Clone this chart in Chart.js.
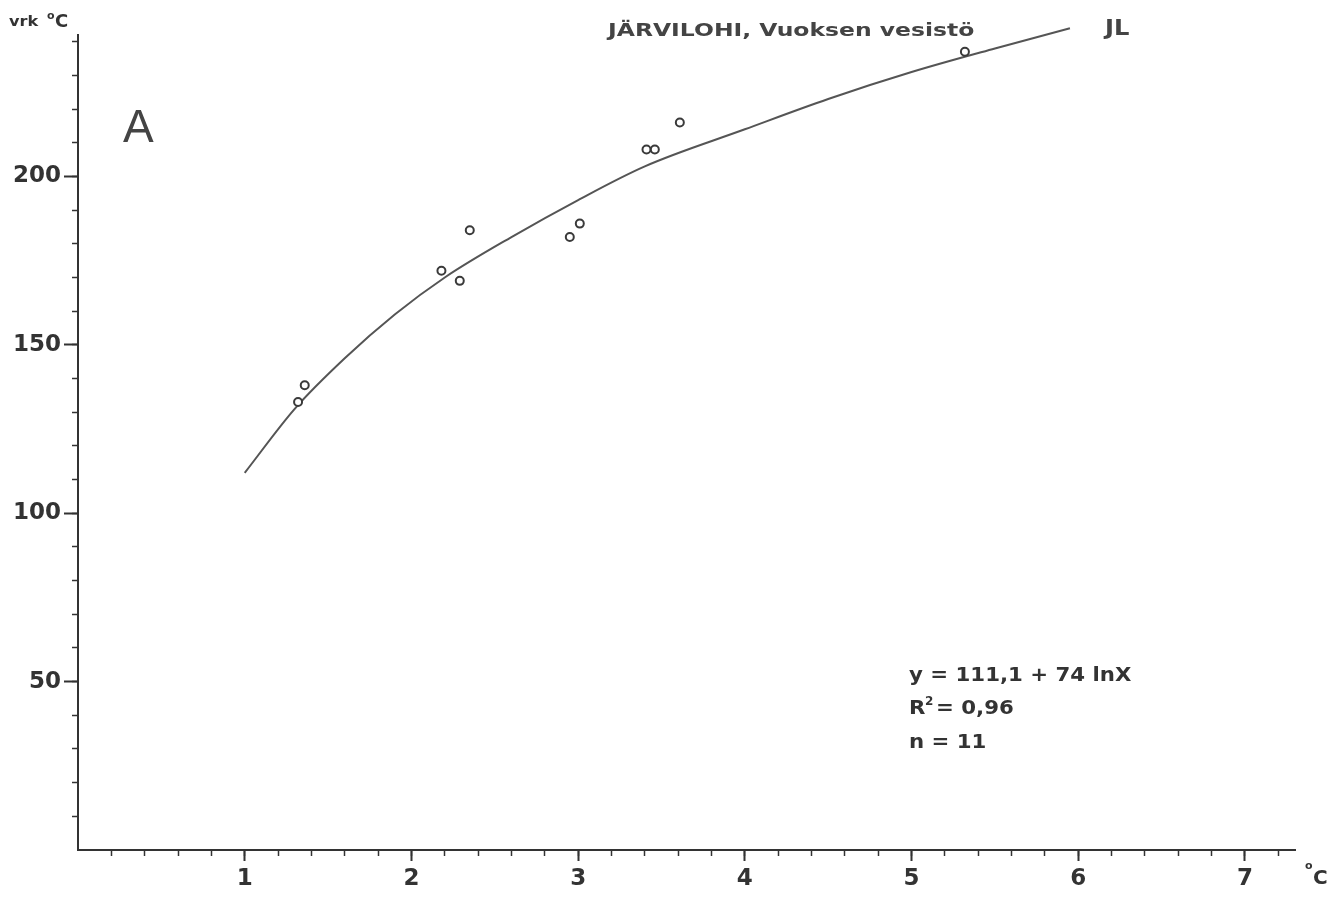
<!DOCTYPE html>
<html>
<head>
<meta charset="utf-8">
<script src="https://cdn.jsdelivr.net/npm/chart.js@4/dist/chart.umd.min.js"></script>
<style>
  body { margin: 0; background: #fff; }
  #wrap { width: 1341px; height: 898px; }
</style>
</head>
<body>
<div id="wrap"><canvas id="fishChart" width="1341" height="898"></canvas></div>
<script>
// observed points (temperature °C, day-degrees)
const obsX = [1.32, 1.36, 2.18, 2.29, 2.35, 2.95, 3.01, 3.41, 3.46, 3.61, 5.32]
const obsY = [133, 138, 172, 169, 184, 182, 186, 208, 208, 216, 237]

// fitted curve
const fitX = [1.0, 1.3, 1.6, 1.9, 2.2, 2.6, 3.0, 3.4, 4.0, 4.5, 5.0, 5.5, 5.95]
const fitY = [112, 131, 146, 159, 170, 182, 193, 203, 214, 223, 231, 238, 244]

const xLabels = ['1', '2', '3', '4', '5', '6', '7']
const yLabels = ['50', '100', '150', '200']

const axisFont = { family: 'DejaVu Sans', weight: 'bold', size: 23 }
const ink = '#333'
const X_MAX = 7.3
const Y_MAX = 242

// no tick mark at the origin
const tickInk = (ctx) => (ctx.tick && ctx.tick.value === 0) ? 'rgba(0,0,0,0)' : ink

// draw text stretched horizontally by sx
const put = (c, text, x, y, font, sx = 1) => {
    c.save()
    c.font = font
    c.translate(x, y)
    c.scale(sx, 1)
    c.fillText(text, 0, 0)
    c.restore()
}

const textPlugin = {
    id: 'texts',
    afterDraw: (chart) => {
        const c = chart.ctx
        c.save()
        c.textBaseline = 'alphabetic'
        c.fillStyle = ink
        put(c, 'vrk', 9, 26, 'bold 14px "DejaVu Sans"', 1.15)
        put(c, 'o', 47, 19, 'bold 11px "DejaVu Sans"')
        put(c, 'C', 55, 27, 'bold 18px "DejaVu Sans"')

        c.fillStyle = '#444'
        put(c, 'JÄRVILOHI, Vuoksen vesistö', 608, 36, 'bold 17px "DejaVu Sans"', 1.38)
        put(c, 'JL', 1105, 35, 'bold 21px "DejaVu Sans"', 1.15)
        put(c, 'A', 123, 142, '46px "Liberation Sans"')

        c.fillStyle = ink
        const eq = 'bold 19px "DejaVu Sans"'
        put(c, 'y = 111,1 + 74 lnX', 909, 681, eq, 1.12)
        put(c, 'R', 909, 714, eq, 1.12)
        put(c, '2', 925, 705, 'bold 12px "DejaVu Sans"')
        put(c, '= 0,96', 936, 714, eq, 1.12)
        put(c, 'n = 11', 909, 748, eq, 1.12)

        put(c, 'o', 1305, 869, 'bold 11px "DejaVu Sans"')
        put(c, 'C', 1313, 884, 'bold 20px "DejaVu Sans"')
        c.restore()
    }
}

// secondary axes that only carry the short minor ticks
const minorAxis = (axis, step) => ({
    type: 'linear',
    axis: axis,
    position: axis === 'x' ? 'bottom' : 'left',
    weight: 0,
    min: 0,
    max: axis === 'x' ? X_MAX : Y_MAX,
    afterFit: (scale) => { if (axis === 'x') scale.height = 0; else scale.width = 0 },
    border: { display: false },
    grid: { drawOnChartArea: false, color: tickInk, tickLength: 6, tickWidth: 1.5 },
    ticks: { stepSize: step, autoSkip: false, includeBounds: false, display: false }
})

const config = {
    type: 'scatter',
    data: {
        datasets: [
            {
                label: 'fit',
                data: fitX.map((x, i) => ({ x, y: fitY[i] })),
                showLine: true,
                borderColor: '#555',
                borderWidth: 2,
                pointRadius: 0,
                cubicInterpolationMode: 'monotone',
                clip: false,
                order: 2
            },
            {
                label: 'obs',
                data: obsX.map((x, i) => ({ x, y: obsY[i] })),
                pointRadius: 4,
                pointBorderWidth: 2,
                pointBorderColor: '#3a3a3a',
                pointBackgroundColor: '#fff',
                clip: false,
                order: 1
            }
        ]
    },
    options: {
        responsive: false,
        animation: false,
        layout: { padding: { top: 35, right: 46, left: 0, bottom: 0 } },
        plugins: {
            legend: { display: false },
            tooltip: { enabled: false }
        },
        scales: {
            xMinor: minorAxis('x', 0.2),
            yMinor: minorAxis('y', 10),
            x: {
                type: 'linear',
                position: 'bottom',
                weight: 1,
                min: 0,
                max: X_MAX,
                afterFit: (scale) => { scale.height = 48 },
                border: { display: true, color: ink, width: 2 },
                grid: { drawOnChartArea: false, color: tickInk, tickLength: 11, tickWidth: 2 },
                ticks: {
                    stepSize: 1,
                    autoSkip: false,
                    maxRotation: 0,
                    includeBounds: false,
                    color: ink,
                    font: axisFont,
                    padding: 4,
                    callback: (value) => xLabels.includes(String(value)) ? String(value) : ''
                }
            },
            y: {
                type: 'linear',
                position: 'left',
                weight: 1,
                min: 0,
                max: Y_MAX,
                afterFit: (scale) => { scale.width = 78 },
                border: { display: true, color: ink, width: 2 },
                grid: { drawOnChartArea: false, color: tickInk, tickLength: 14, tickWidth: 2 },
                ticks: {
                    stepSize: 50,
                    autoSkip: false,
                    includeBounds: false,
                    color: ink,
                    font: axisFont,
                    padding: 3,
                    callback: (value) => yLabels.includes(String(value)) ? String(value) : ''
                }
            }
        }
    },
    plugins: [textPlugin]
}

const ctx = document.getElementById('fishChart').getContext('2d')
new Chart(ctx, config)
</script>
</body>
</html>
